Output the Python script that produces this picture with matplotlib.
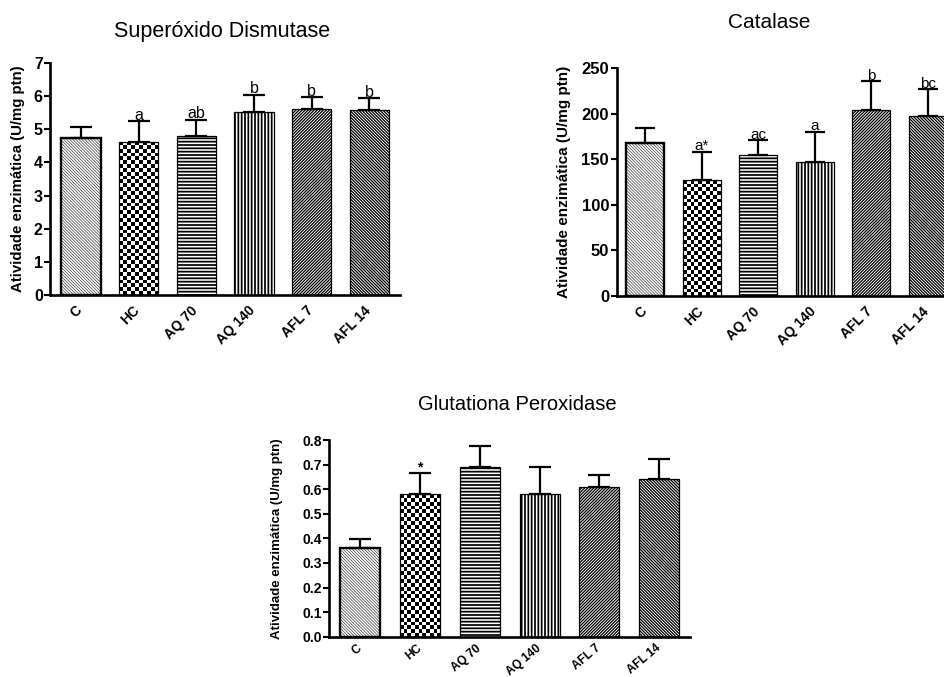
import numpy as np
import matplotlib
matplotlib.use("Agg")
import matplotlib.pyplot as plt
from matplotlib import transforms

plt.rcParams['font.family'] = ['Liberation Sans', 'DejaVu Sans']
plt.rcParams['hatch.linewidth'] = 1.0

# ---------------- data ----------------
categories = ['C', 'HC', 'AQ 70', 'AQ 140', 'AFL 7', 'AFL 14']

sod_mean = [4.73, 4.63, 4.80, 5.52, 5.62, 5.59]
sod_err = [0.33, 0.61, 0.49, 0.52, 0.34, 0.34]
sod_marks = ['', 'a', 'ab', 'b', 'b', 'b']

cat_mean = [168.3, 127.3, 154.8, 147.4, 204.2, 197.6]
cat_err = [16.5, 31.1, 16.4, 33.0, 31.8, 29.3]
cat_marks = ['', 'a*', 'ac', 'a', 'b', 'bc']

gpx_mean = [0.362, 0.579, 0.689, 0.579, 0.610, 0.640]
gpx_err = [0.035, 0.088, 0.087, 0.113, 0.048, 0.082]
gpx_marks = ['', '*', '', '', '', '']

ylabel = 'Atividade enzimática (U/mg ptn)'

# bar fill styles per group
styles = [
    dict(hatch='\\' * 11, hcolor='#404040', hlw=0.5, elw=1.7),
    dict(hatch='checker', hcolor='black', hlw=0.0, elw=0.9),
    dict(hatch='-----', hcolor='black', hlw=1.25, elw=0.9),
    dict(hatch='|||||', hcolor='black', hlw=1.25, elw=0.9),
    dict(hatch='/' * 11, hcolor='black', hlw=0.9, elw=0.9),
    dict(hatch='\\' * 11, hcolor='black', hlw=0.9, elw=0.9),
]

W, H = 945, 677
fig = plt.figure(figsize=(W / 100, H / 100), dpi=100)


def add_axes_px(left, right, bottom, top):
    return fig.add_axes([left / W, 1 - bottom / H, (right - left) / W, (bottom - top) / H])


def panel(ax, means, errs, marks, ylim, yticks, yfmt, xlim, width, capsize,
          ytick_fs, xtick_fs, ylab_fs, ylab_x, mark_fs, mark_bold=False,
          xrot=45, xpad=6, cell_px=3.8):
    ax.set_xlim(*xlim)
    ax.set_ylim(*ylim)
    x = np.arange(len(categories))
    bb = ax.get_position()
    ax_w_px = bb.width * W
    ax_h_px = bb.height * H
    ppx = ax_w_px / (xlim[1] - xlim[0])
    ppy = ax_h_px / (ylim[1] - ylim[0])
    for i, m in enumerate(means):
        st = styles[i]
        if st['hatch'] == 'checker':
            base = ax.bar(x[i], m, width, color='white', edgecolor='black',
                          linewidth=0, zorder=2)[0]
            ncol = max(1, int(round(width * ppx / cell_px)))
            nrow = max(1, int(round(m * ppy / cell_px)))
            arr = (np.add.outer(np.arange(nrow), np.arange(ncol)) % 2).astype(float)
            im = ax.imshow(arr, cmap='gray', vmin=0, vmax=1, interpolation='nearest',
                           extent=(x[i] - width / 2, x[i] + width / 2, 0, m),
                           origin='upper', aspect='auto', zorder=2.5)
            im.set_clip_path(base)
        else:
            b = ax.bar(x[i], m, width, color='white', edgecolor=st['hcolor'],
                       linewidth=0, hatch=st['hatch'], zorder=2)[0]
            if hasattr(b, 'set_hatch_linewidth'):
                b.set_hatch_linewidth(st['hlw'])
        ax.bar(x[i], m, width, fill=False, edgecolor='black',
               linewidth=st['elw'], zorder=3)
    ax.errorbar(x, means, yerr=[np.zeros(len(means)), errs], fmt='none',
                ecolor='black', elinewidth=1.6, capsize=capsize, capthick=1.6,
                zorder=4)
    trans = transforms.offset_copy(ax.transData, fig=fig, y=1.5, units='dots')
    for i, t in enumerate(marks):
        if t:
            ax.text(x[i], means[i] + errs[i], t, ha='center', va='baseline',
                    fontsize=mark_fs, fontweight='bold' if mark_bold else 'normal',
                    transform=trans, zorder=5)
    ax.set_xlim(*xlim)
    ax.set_ylim(*ylim)
    for s in ['top', 'right']:
        ax.spines[s].set_visible(False)
    for s in ['left', 'bottom']:
        ax.spines[s].set_linewidth(1.9)
    ax.set_yticks(yticks)
    ax.set_yticklabels([yfmt.format(v) for v in yticks], fontsize=ytick_fs,
                       fontweight='bold')
    ax.tick_params(axis='y', length=4, width=1.5, pad=1.5, direction='out')
    ax.set_xticks(x)
    ax.set_xticklabels(categories, rotation=xrot, ha='right', fontsize=xtick_fs,
                       fontweight='bold')
    ax.tick_params(axis='x', length=0, pad=xpad)
    off = transforms.ScaledTranslation(4 / 100, 0, fig.dpi_scale_trans)
    for lab in ax.get_xticklabels():
        lab.set_transform(lab.get_transform() + off)
    ax.set_ylabel(ylabel, fontsize=ylab_fs, fontweight='bold')
    ax.yaxis.set_label_coords(ylab_x, 0.5)
    ax.patch.set_visible(False)


# Superóxido Dismutase
ax1 = add_axes_px(50.5, 400, 295, 63)
panel(ax1, sod_mean, sod_err, sod_marks, (0, 7), list(range(0, 8)), '{:d}',
      (-0.53, 5.53), 0.68, 8.0, 11.5, 10, 10.8, -0.073, 11.5)
fig.text(222 / W, 1 - 31 / H, 'Superóxido Dismutase', ha='center', va='center',
         fontsize=15.5)

# Catalase
ax2 = add_axes_px(616.7, 959, 296, 68.3)
panel(ax2, cat_mean, cat_err, cat_marks, (0, 250), list(range(0, 251, 50)), '{:d}',
      (-0.506, 5.55), 0.67, 7.3, 12, 10, 11, -0.1335, 11)
fig.text(769 / W, 1 - 22 / H, 'Catalase', ha='center', va='center', fontsize=15)

# Glutationa Peroxidase
ax3 = add_axes_px(329.3, 690, 636.7, 440)
panel(ax3, gpx_mean, gpx_err, gpx_marks, (0, 0.8), [i / 10 for i in range(9)], '{:.1f}',
      (-0.52, 5.52), 0.67, 7.8, 10, 8.6, 9.5, -0.128, 10, mark_bold=True,
      xrot=40, xpad=4)
fig.text(517 / W, 1 - 405 / H, 'Glutationa Peroxidase', ha='center', va='center',
         fontsize=14.5)

fig.savefig('out.png', dpi=100)
